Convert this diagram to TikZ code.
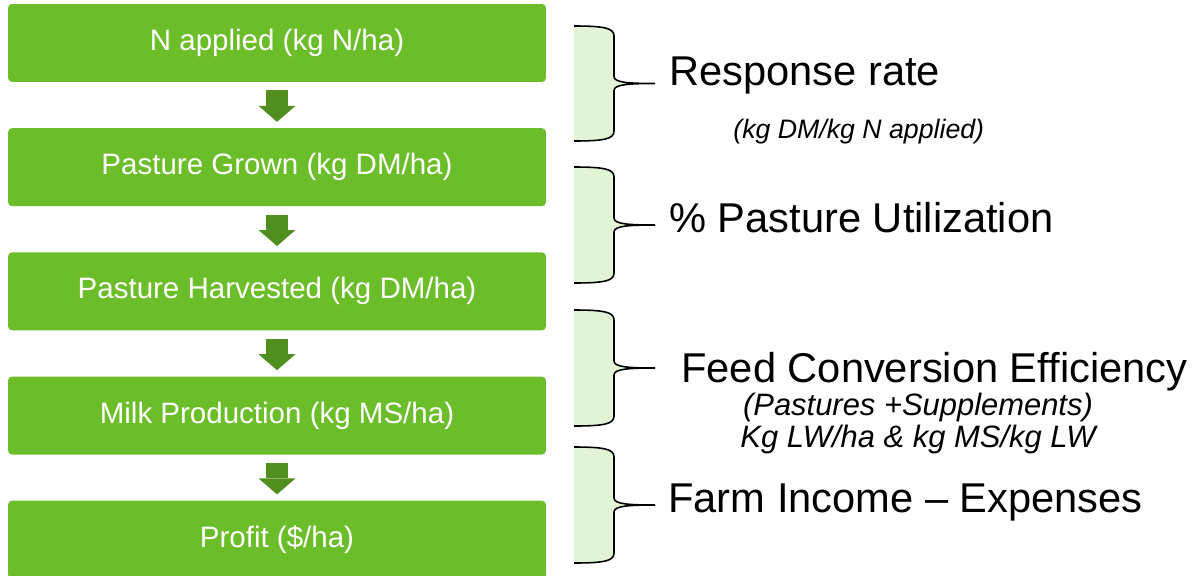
\documentclass[tikz,border=0pt]{standalone}
\usepackage{fontspec}
\setmainfont{Liberation Sans}
\usepackage{xcolor}
\usetikzlibrary{arrows.meta,positioning}

\definecolor{stagegreen}{RGB}{108,189,42}
\definecolor{arrowgreen}{RGB}{80,142,32}
\definecolor{bracegreen}{RGB}{226,244,214}

\begin{document}
\begin{tikzpicture}[
    x=0.02cm, y=-0.02cm,
    node distance=0.91cm,
    stage/.style={rectangle, fill=stagegreen, text=white, minimum width=10.76cm, minimum height=1.56cm, rounded corners=0.08cm, font=\fontsize{16.8}{20}\selectfont},
    flow/.style={draw=arrowgreen, line width=0.44cm, -{Triangle[width=0.74cm, length=0.32cm, line width=0pt]}, shorten <=0.16cm, shorten >=0.12cm},
    brace/.style={fill=bracegreen, draw=black, line width=0.9pt},
    factor/.style={anchor=base west, inner sep=0pt, font=\fontsize{23.7}{28}\selectfont},
    detail/.style={anchor=base, inner sep=0pt, font=\fontsize{17.6}{20}\selectfont\itshape}
]
    \useasboundingbox (0,0) rectangle (1202,575);

    % stages
    \node [stage] (applied) at (277,43) {N applied (kg N/ha)};
    \node [stage, below=of applied] (grown) {Pasture Grown (kg DM/ha)};
    \node [stage, below=of grown] (harvested) {Pasture Harvested (kg DM/ha)};
    \node [stage, below=of harvested] (milk) {Milk Production (kg MS/ha)};
    \node [stage, below=of milk] (profit) {Profit (\$/ha)};

    \path [flow] (applied) -- (grown);
    \path [flow] (grown) -- (harvested);
    \path [flow] (harvested) -- (milk);
    \path [flow] (milk) -- (profit);

    % braces
    \foreach \ya/\yb in {26/141, 167/283, 310/426, 447/563} {
        \pgfmathsetmacro\ym{(\ya+\yb)/2}
        \filldraw [brace] (574,\ya) .. controls (604,\ya) and (614,\ya+2) .. (614,\ya+10)
            -- (614,\ym-7) .. controls (614,\ym-1) and (628,\ym) .. (655,\ym)
            .. controls (628,\ym) and (614,\ym+1) .. (614,\ym+7)
            -- (614,\yb-10) .. controls (614,\yb-2) and (604,\yb) .. (574,\yb);
    }

    % factors
    \node [factor] (response) at (669,85) {Response rate};
    \node [factor, font=\fontsize{15.2}{18}\selectfont\itshape] (responseunit) at (733,138) {(kg DM/kg N applied)};
    \node [factor] (utilization) at (669,232) {\% Pasture Utilization};
    \node [factor] (conversion) at (681,382) {Feed Conversion Efficiency};
    \node [detail] (feeds) at (918,415) {(Pastures +Supplements)};
    \node [detail] (feedunit) at (918,447) {Kg LW/ha \& kg MS/kg LW};
    \node [factor] (income) at (668,512) {Farm Income – Expenses};
\end{tikzpicture}
\end{document}
